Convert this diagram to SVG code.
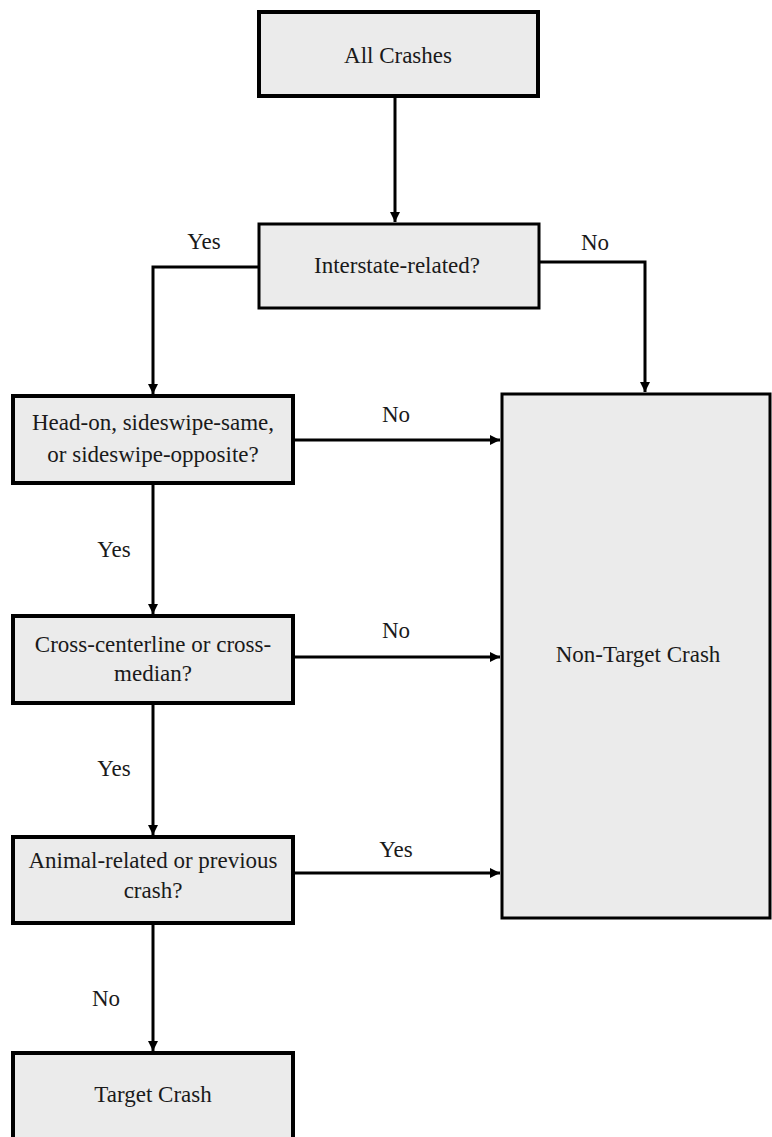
<svg xmlns="http://www.w3.org/2000/svg" width="772" height="1137" viewBox="0 0 772 1137" font-family="Liberation Serif, Tinos, DejaVu Serif, serif">
<defs>
<style>
.box{fill:#ebebeb;stroke:#000;stroke-width:4}
.thin{stroke-width:3}
.t{font-size:23px;fill:#1a1a1a;text-anchor:middle}
.c{fill:none;stroke:#000;stroke-width:3}
</style>
<marker id="ah" markerUnits="userSpaceOnUse" markerWidth="12" markerHeight="12" refX="10" refY="5" orient="auto">
<path d="M0,0 L10,5 L0,10 z" fill="#000"/>
</marker>
</defs>
<rect width="772" height="1137" fill="#fff"/>
<g id="connectors">
<path class="c" d="M395,96 V222" marker-end="url(#ah)"/>
<path class="c" d="M258,267 H153 V394" marker-end="url(#ah)"/>
<path class="c" d="M538,262 H645 V392" marker-end="url(#ah)"/>
<path class="c" d="M293,440 H500" marker-end="url(#ah)"/>
<path class="c" d="M153,483 V614" marker-end="url(#ah)"/>
<path class="c" d="M293,657 H500" marker-end="url(#ah)"/>
<path class="c" d="M153,703 V835" marker-end="url(#ah)"/>
<path class="c" d="M293,873 H500" marker-end="url(#ah)"/>
<path class="c" d="M153,923 V1051" marker-end="url(#ah)"/>
<text class="t" x="204" y="249">Yes</text>
<text class="t" x="595" y="250">No</text>
<text class="t" x="396" y="422">No</text>
<text class="t" x="114" y="557">Yes</text>
<text class="t" x="396" y="638">No</text>
<text class="t" x="114" y="776">Yes</text>
<text class="t" x="396" y="857">Yes</text>
<text class="t" x="106" y="1006">No</text>
</g>
<g id="all-crashes">
<rect class="box" x="259" y="12" width="279" height="84"/>
<text class="t" x="398" y="63">All Crashes</text>
</g>
<g id="interstate">
<rect class="box thin" x="259" y="224" width="280" height="84"/>
<text class="t" x="397" y="273">Interstate-related?</text>
</g>
<g id="head-on">
<rect class="box" x="13" y="396" width="280" height="87"/>
<text class="t" x="153" y="430">Head-on, sideswipe-same,</text>
<text class="t" x="153" y="462">or sideswipe-opposite?</text>
</g>
<g id="cross">
<rect class="box" x="13" y="616" width="280" height="87"/>
<text class="t" x="153" y="652">Cross-centerline or cross-</text>
<text class="t" x="153" y="681">median?</text>
</g>
<g id="animal">
<rect class="box" x="13" y="837" width="280" height="86"/>
<text class="t" x="153" y="868">Animal-related or previous</text>
<text class="t" x="153" y="898">crash?</text>
</g>
<g id="target">
<rect class="box" x="13" y="1053" width="280" height="90"/>
<text class="t" x="153" y="1102">Target Crash</text>
</g>
<g id="non-target">
<rect class="box thin" x="502" y="394" width="268" height="524"/>
<text class="t" x="638" y="662">Non-Target Crash</text>
</g>
</svg>
